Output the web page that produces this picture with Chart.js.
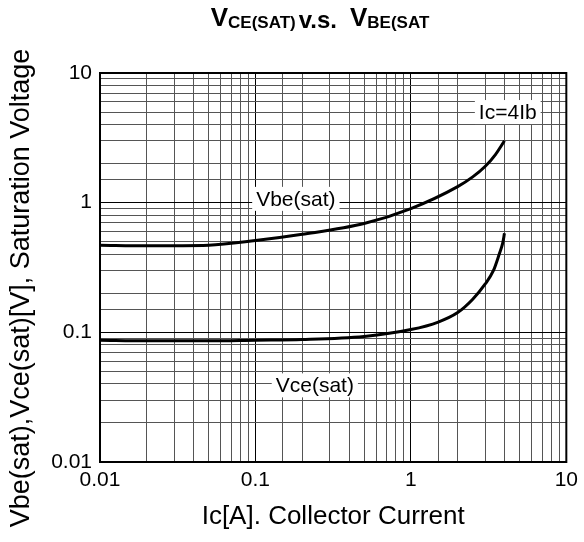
<!DOCTYPE html>
<html>
<head>
<meta charset="utf-8">
<script src="https://cdn.jsdelivr.net/npm/chart.js@4/dist/chart.umd.min.js"></script>
<style>
  body { margin: 0; background: #fff; }
</style>
</head>
<body>
<canvas id="satchart" width="584" height="542"></canvas>
<script>
// Ic[A] and saturation voltages
const icVbe = [0.01, 0.02, 0.05, 0.1, 0.2, 0.5, 1, 2, 2.5, 3, 3.5, 4];
const vbeSat = [0.47, 0.465, 0.47, 0.51, 0.57, 0.69, 0.9, 1.33, 1.58, 1.9, 2.35, 3.0];

const icVce = [0.01, 0.02, 0.05, 0.1, 0.2, 0.5, 1, 1.5, 2, 2.5, 3, 3.4, 3.7, 3.9, 4];
const vceSat = [0.087, 0.086, 0.086, 0.087, 0.088, 0.093, 0.105, 0.12, 0.142, 0.18, 0.235, 0.3, 0.4, 0.49, 0.58];

// axis ends and labelled ticks
const axisMin = 0.01;
const axisMax = 10;
const tickLabels = ['0.01', '0.1', '1', '10'];

// text put on the curves
const notes = [
    { text: 'Ic=4Ib', x: 4.2, y: 5 },
    { text: 'Vbe(sat)', x: 0.182, y: 1.07 },
    { text: 'Vce(sat)', x: 0.241, y: 0.039 }
];

const FONT = "'Liberation Sans', Arial, sans-serif";

function toPoints(xs, ys) {
    return xs.map((x, i) => ({ x: x, y: ys[i] }));
}

function isDecade(v) {
    const l = Math.log10(v);
    return Math.abs(l - Math.round(l)) < 1e-6;
}

function tickText(v) {
    if (!isDecade(v)) return '';
    const i = Math.round(Math.log10(v)) + 2;
    return tickLabels[i];
}

// 枠・タイトル・ラベル
const extras = {
    id: 'extras',
    afterDraw(chart) {
        const c = chart.ctx;
        const a = chart.chartArea;
        const xs = chart.scales.x;
        const ys = chart.scales.y;
        c.save();

        // frame
        c.strokeStyle = '#000';
        c.lineWidth = 2;
        c.strokeRect(a.left, a.top, a.right - a.left, a.bottom - a.top);

        // labels with white box
        c.font = '21px ' + FONT;
        c.textAlign = 'center';
        c.textBaseline = 'middle';
        notes.forEach(n => {
            const px = xs.getPixelForValue(n.x);
            const py = ys.getPixelForValue(n.y);
            const w = c.measureText(n.text).width;
            c.fillStyle = '#fff';
            c.fillRect(px - w / 2 - 4, py - 12, w + 8, 24);
            c.fillStyle = '#000';
            c.fillText(n.text, px, py + 1);
        });

        // y title
        c.save();
        c.translate(22, 288);
        c.rotate(-Math.PI / 2);
        c.font = '27px ' + FONT;
        c.fillText('Vbe(sat),Vce(sat)[V], Saturation Voltage', 0, 0);
        c.restore();

        // title with subscripts
        const parts = [
            { t: 'V', f: 'bold 26px ' + FONT, dy: 0, gap: 0 },
            { t: 'CE(SAT)', f: 'bold 17px ' + FONT, dy: 2, gap: 3 },
            { t: 'v.s.', f: 'bold 24px ' + FONT, dy: 2, gap: 13 },
            { t: 'V', f: 'bold 26px ' + FONT, dy: 0, gap: 0 },
            { t: 'BE(SAT', f: 'bold 17px ' + FONT, dy: 2, gap: 0 }
        ];
        let total = 0;
        parts.forEach(p => { c.font = p.f; p.w = c.measureText(p.t).width; total += p.w + p.gap; });
        let x = 320 - total / 2;
        c.textAlign = 'left';
        c.textBaseline = 'alphabetic';
        parts.forEach(p => {
            c.font = p.f;
            c.fillText(p.t, x, 26 + p.dy);
            x += p.w + p.gap;
        });

        c.restore();
    }
};

const ctx = document.getElementById('satchart');

const satChart = new Chart(ctx, {
    type: 'line',
    data: {
        datasets: [{
            label: 'Vbe(sat)',
            data: toPoints(icVbe, vbeSat),
            borderColor: '#000',
            borderWidth: 3,
            pointRadius: 0,
            cubicInterpolationMode: 'monotone'
        }, {
            label: 'Vce(sat)',
            data: toPoints(icVce, vceSat),
            borderColor: '#000',
            borderWidth: 3,
            pointRadius: 0,
            cubicInterpolationMode: 'monotone'
        }]
    },
    options: {
        responsive: false,
        animation: false,
        layout: { padding: { top: 73, right: 14, left: 0, bottom: 0 } },
        plugins: {
            legend: { display: false },
            tooltip: { enabled: false }
        },
        scales: {
            x: {
                type: 'logarithmic',
                min: axisMin,
                max: axisMax,
                afterFit(scale) { scale.height = 80; },
                grid: {
                    drawTicks: false,
                    color: c => isDecade(c.tick.value) ? '#000' : '#555',
                    lineWidth: 1
                },
                border: { color: '#000', width: 2 },
                ticks: {
                    autoSkip: false,
                    maxRotation: 0,
                    padding: 6,
                    color: '#000',
                    font: { family: FONT, size: 21 },
                    callback: v => tickText(v)
                },
                title: {
                    display: true,
                    text: 'Ic[A]. Collector Current',
                    color: '#000',
                    font: { family: FONT, size: 26 },
                    padding: { top: 0, bottom: 10 }
                }
            },
            y: {
                type: 'logarithmic',
                min: axisMin,
                max: axisMax,
                afterFit(scale) { scale.width = 100; },
                grid: {
                    drawTicks: false,
                    color: c => isDecade(c.tick.value) ? '#000' : '#555',
                    lineWidth: 1
                },
                border: { color: '#000', width: 2 },
                ticks: {
                    autoSkip: false,
                    padding: 8,
                    color: '#000',
                    font: { family: FONT, size: 21 },
                    callback: v => tickText(v)
                }
            }
        }
    },
    plugins: [extras]
});
</script>
</body>
</html>
